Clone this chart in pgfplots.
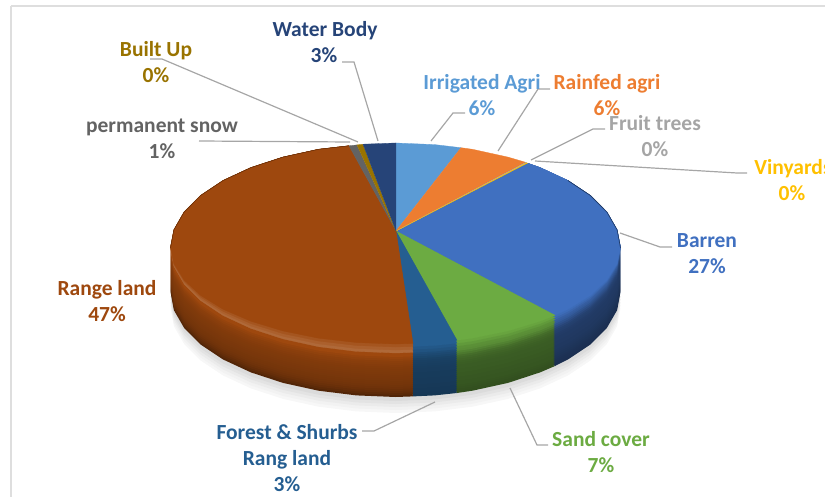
\documentclass[border=0pt]{standalone}
\usepackage{fontspec}
\setmainfont{Carlito}
\usepackage{pgfplots}
\usepackage{pgfplotstable}
\pgfplotsset{compat=1.18}

\definecolor{Irrig}{HTML}{5B9BD5}
\definecolor{Rainf}{HTML}{ED7D31}
\definecolor{Fruit}{HTML}{A5A5A5}
\definecolor{Viny}{HTML}{FFC000}
\definecolor{Barren}{HTML}{4070C0}
\definecolor{Sand}{HTML}{6CAB42}
\definecolor{Forest}{HTML}{255E91}
\definecolor{Range}{HTML}{9E480E}
\definecolor{Snow}{HTML}{636363}
\definecolor{Built}{HTML}{997300}
\definecolor{Water}{HTML}{264478}
\definecolor{leader}{HTML}{A6A6A6}
\definecolor{frame}{HTML}{DEDEDE}

% slices in picture pixels: apex, then the rim
\pgfplotstableread{
x y
396 231
396 143
434.6 144.6
461 147.7
}\tIrrig
\pgfplotstableread{
x y
396 231
461 147.7
472.5 149.3
508 157.1
526 162.4
}\tRainf
\pgfplotstableread{
x y
396 231
526 162.4
526.8 162.8
}\tFruit
\pgfplotstableread{
x y
396 231
526.8 162.8
527.6 163.2
}\tViny
\pgfplotstableread{
x y
396 231
527.6 163.2
540.1 167.6
567.9 180.5
590.4 195.5
606.9 212.1
617.1 229.8
620.5 248
617.1 266.2
606.9 283.9
590.4 300.5
567.9 315.5
555 322
}\tBarren
\pgfplotstableread{
x y
396 231
555 322
540.1 328.4
508 338.9
472.5 346.7
457 349
}\tSand
\pgfplotstableread{
x y
396 231
457 349
434.6 351.4
413 352.4
}\tForest
\pgfplotstableread{
x y
396 231
413 352.4
395.5 353
356.4 351.4
318.5 346.7
283 338.9
250.9 328.4
223.1 315.5
200.6 300.5
184.1 283.9
173.9 266.2
170.5 248
173.9 229.8
184.1 212.1
200.6 195.5
223.1 180.5
250.9 167.6
283 157.1
318.5 149.3
349 145.8
}\tRange
\pgfplotstableread{
x y
396 231
349 145.8
357 144.9
}\tSnow
\pgfplotstableread{
x y
396 231
357 144.9
363 144.2
}\tBuilt
\pgfplotstableread{
x y
396 231
363 144.2
395.5 143
396 143
}\tWater
% whole outline, for the shadow
\pgfplotstableread{
x y
620.5 248
617.1 266.2
606.9 283.9
590.4 300.5
567.9 315.5
540.1 328.4
508 338.9
472.5 346.7
434.6 351.4
395.5 353
356.4 351.4
318.5 346.7
283 338.9
250.9 328.4
223.1 315.5
200.6 300.5
184.1 283.9
173.9 266.2
170.5 248
}\tOutline

% down-shifted copy of a slice (side wall), painted deepest first
\newcommand\wall[3]{\addplot[fill=#2,draw=none,forget plot] table[x=x,y expr={\thisrow{y}+#3}] {#1};}
\newcommand\band[5]{%
  \wall{\tBarren}{Barren!#2!black}{#1}\wall{\tSand}{Sand!#3!black}{#1}\wall{\tForest}{Forest!#4!black}{#1}\wall{\tRange}{Range!#5!black}{#1}}
% top face, front rim pulled in by #3 (the bevel)
\newcommand\face[3]{\addplot[fill=#2,draw=#2,line width=0.3pt,forget plot] table[x=x,y expr={\thisrow{y}-#3*max(\thisrow{y}-231,0)/122}] {#1};}
\newcommand\bevel[5]{%
  \face{\tBarren}{#2}{#1}\face{\tSand}{#3}{#1}\face{\tForest}{#4}{#1}\face{\tRange}{#5}{#1}}
\newcommand\shadow[2]{\addplot[fill=black!#2,draw=none,forget plot] table[x=x,y expr={\thisrow{y}+#1}] {\tOutline};}
\newcommand\lab[4]{\node[anchor=base,text=#3,inner sep=0pt,font=\fontsize{21.5}{26}\selectfont\bfseries] at (axis cs:#1,#2) {#4};}
\newcommand\leader[1]{\addplot[leader,line width=1.2pt,forget plot] coordinates {#1};}

\begin{document}
\begin{tikzpicture}
\clip (0,0) rectangle (825pt,497pt);
\begin{axis}[
    at={(0,0)},
    anchor=south west,
    scale only axis,
    width=825pt,
    height=497pt,
    xmin=0, xmax=825,
    ymin=0, ymax=497,
    y dir=reverse,
    hide axis,
    clip=false
]
% page frame
\addplot[frame,line width=1.2pt,forget plot] coordinates {(825,6) (11,6)};
\addplot[frame,line width=2pt,forget plot] coordinates {(11,6) (11,497)};

% shadow
\shadow{60}{3}
\shadow{57}{5}
\shadow{54}{8}
\shadow{51}{11}
\shadow{48}{14}

% side wall
\band{44}{42}{46}{58}{52}
\band{42}{43}{47}{59}{58}
\band{40}{44}{48}{60}{63}
\band{38}{45}{49}{60}{67}
\band{36}{46}{50}{61}{70}
\band{34}{47}{50}{61}{72}
\band{32}{48}{51}{62}{74}
\band{30}{49}{51}{62}{75}
\band{28}{50}{52}{62}{76}
\band{26}{50}{52}{63}{77}
\band{24}{51}{53}{63}{78}
\band{22}{51}{53}{63}{79}
\band{20}{52}{54}{64}{80}
\band{18}{52}{54}{64}{81}
\band{16}{53}{55}{65}{82}
\band{14}{54}{56}{66}{84}
\band{12}{56}{58}{67}{86}
\band{10}{58}{60}{68}{88}
\band{8}{62}{64}{70}{91}
\band{6}{68}{70}{74}{95}
\band{4}{74}{76}{78}{100}
\band{2}{80}{82}{82}{100}

% top face with its bevel
\bevel{0}{Barren!84!black}{Sand!84!black}{Forest!88!black}{Range!82!white}
\bevel{3}{Barren!90!black}{Sand!90!black}{Forest!94!black}{Range!87!white}
\bevel{6}{Barren!96!black}{Sand!96!black}{Forest}{Range!93!white}
\bevel{9}{Barren}{Sand}{Forest}{Range}
\face{\tIrrig}{Irrig}{0}
\face{\tRainf}{Rainf}{0}
\face{\tFruit}{Fruit}{0}
\face{\tViny}{Viny}{0}
\face{\tSnow}{Snow}{0}
\face{\tBuilt}{Built}{0}
\face{\tWater}{Water}{0}

% dark line along the back rim
\addplot[Barren!50!black,line width=0.6pt,forget plot] coordinates {(567.9,180.5) (590.4,195.5) (606.9,212.1) (617.1,229.8) (620.5,248)};
\addplot[Range!60!black,line width=0.5pt,forget plot] coordinates {(170.5,248) (173.9,229.8) (184.1,212.1) (200.6,195.5) (223.1,180.5) (250.9,167.6) (283,157.1) (318.5,149.3) (349,145.8)};

% leader lines
\leader{(150,59) (162,59) (358,142)}
\leader{(199,141) (350,142)}
\leader{(342,62) (354,62) (378,141)}
\leader{(465,113) (453,113) (431,141)}
\leader{(550,89) (538,89) (498,151)}
\leader{(605,129) (593,129) (531,160)}
\leader{(747,173) (737,173) (535,161)}
\leader{(620,233) (660,247) (672,247)}
\leader{(510,388) (537,445) (548,445)}
\leader{(435,402) (374,431) (362,431)}

% labels
\lab{325}{37}{Water}{Water Body}
\lab{324}{63}{Water}{3\%}
\lab{156}{57}{Built}{Built Up}
\lab{156}{83}{Built}{0\%}
\lab{162}{133}{Snow}{permanent snow}
\lab{162}{159}{Snow}{1\%}
\lab{482}{90}{Irrig}{Irrigated Agri}
\lab{482}{116}{Irrig}{6\%}
\lab{607}{90}{Rainf}{Rainfed agri}
\lab{607}{116}{Rainf}{6\%}
\lab{655}{131}{Fruit}{Fruit trees}
\lab{655}{157}{Fruit}{0\%}
\lab{793}{175}{Viny}{Vinyards}
\lab{792}{201}{Viny}{0\%}
\lab{707}{248}{Barren}{Barren}
\lab{707}{274}{Barren}{27\%}
\lab{107}{295}{Range}{Range land}
\lab{107}{321}{Range}{47\%}
\lab{287}{439}{Forest}{Forest \& Shurbs}
\lab{287}{465}{Forest}{Rang land}
\lab{287}{491}{Forest}{3\%}
\lab{601}{446}{Sand}{Sand cover}
\lab{601}{472}{Sand}{7\%}
\end{axis}
\end{tikzpicture}
\end{document}
